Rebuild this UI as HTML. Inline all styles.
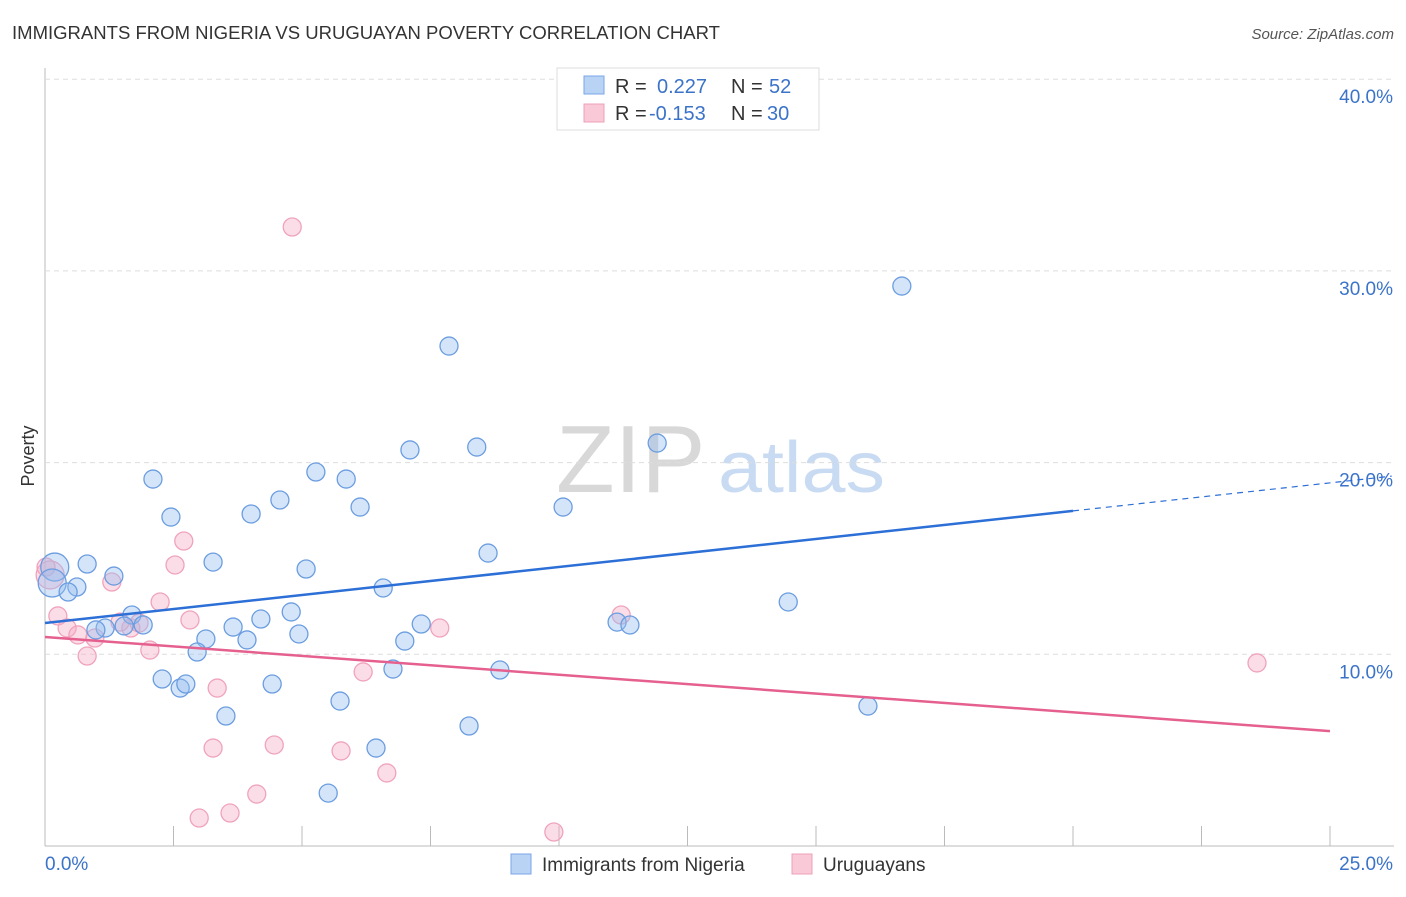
<!DOCTYPE html>
<html><head><meta charset="utf-8"><style>
body{margin:0;background:#fff;font-family:"Liberation Sans",sans-serif}
svg text{font-family:"Liberation Sans",sans-serif}
</style></head><body>
<svg id="chart" width="1406" height="892">
<text x="12" y="39" font-size="18" fill="#333" textLength="708" lengthAdjust="spacingAndGlyphs">IMMIGRANTS FROM NIGERIA VS URUGUAYAN POVERTY CORRELATION CHART</text>
<text x="1394" y="39" font-size="15" fill="#555" font-style="italic" text-anchor="end">Source: ZipAtlas.com</text>
<text x="556" y="492" font-size="96" fill="#d8d8d8" font-family="Liberation Serif,serif">ZIP</text>
<text x="718" y="492" font-size="72" fill="#c9dbf2" textLength="167" lengthAdjust="spacingAndGlyphs">atlas</text>
<text transform="translate(34,456) rotate(-90)" font-size="18" fill="#333" text-anchor="middle">Poverty</text>
<g id="grid"></g><g id="marks"></g>
<g>
<rect x="557" y="68" width="262" height="62" fill="#fff" stroke="#ddd"/>
<rect x="584" y="76" width="20" height="18" fill="#b9d3f5" stroke="#7aa6e6"/>
<rect x="584" y="104" width="20" height="18" fill="#f9c9d7" stroke="#eea0b8"/>
<text x="615" y="93" font-size="20" fill="#333">R =</text><text x="657" y="93" font-size="20" fill="#3b73c9">0.227</text>
<text x="731" y="93" font-size="20" fill="#333">N =</text><text x="769" y="93" font-size="20" fill="#3b73c9">52</text>
<text x="615" y="120" font-size="20" fill="#333">R =</text><text x="649" y="120" font-size="20" fill="#3b73c9">-0.153</text>
<text x="731" y="120" font-size="20" fill="#333">N =</text><text x="767" y="120" font-size="20" fill="#3b73c9">30</text>
</g>
<g>
<rect x="511" y="854" width="20" height="20" fill="#b9d3f5" stroke="#7aa6e6"/>
<text x="542" y="871" font-size="19" fill="#333">Immigrants from Nigeria</text>
<rect x="792" y="854" width="20" height="20" fill="#f9c9d7" stroke="#eea0b8"/>
<text x="823" y="871" font-size="19" fill="#333">Uruguayans</text>
</g>
</svg>
<script>
const yTicks=[10,20,30,40];
const yTickLabels=["10.0%","20.0%","30.0%","40.0%"];
const xTickLabels=["0.0%","25.0%"];
const blueX=[0.19,0.14,0.82,0.62,0.45,1.34,1.69,1.91,1.54,1.17,0.99,2.10,2.45,3.27,3.13,2.96,3.66,3.93,4.20,4.79,4.94,4.01,4.57,5.08,5.27,5.86,6.13,6.58,7.00,7.32,7.10,6.77,2.28,2.63,2.74,3.52,4.42,5.74,6.44,5.51,8.25,8.85,8.62,8.40,7.86,10.08,11.91,11.13,11.38,14.46,16.01,16.67];
const blueY=[14.55,13.72,14.71,13.51,13.25,14.08,12.05,11.53,11.48,11.37,11.27,19.14,17.16,14.81,10.80,10.12,11.42,10.75,11.84,12.21,11.06,17.32,18.05,14.45,19.51,19.14,17.68,13.46,10.69,11.58,20.66,9.23,8.71,8.24,8.45,6.78,8.45,7.56,5.11,2.76,6.26,9.18,15.28,20.81,26.08,17.68,21.02,11.68,11.53,12.73,7.30,29.21];
const pinkX=[0.10,0.25,0.43,0.64,0.97,0.82,1.30,1.67,1.46,2.04,2.24,2.53,2.70,2.82,3.35,3.27,3.00,3.60,4.12,4.46,4.81,5.76,6.19,6.65,7.68,9.90,11.21,23.58,0.02,1.83];
const pinkY=[14.14,12.0,11.37,11.01,10.85,9.91,13.77,11.37,11.68,10.22,12.73,14.66,15.91,11.79,8.24,5.11,1.46,1.72,2.71,5.27,32.29,4.96,9.08,3.81,11.37,0.73,12.05,9.55,14.55,11.63];
const blueTrend=[11.63,17.48]; // at x=0 and x=20
const pinkTrend=[10.9,5.99];   // at x=0 and x=25
const X=v=>45+v*51.4, Y=v=>846-v*19.17;
const NS="http://www.w3.org/2000/svg";
const grid=document.getElementById('grid'), marks=document.getElementById('marks');
function mk(p,tag,a){const e=document.createElementNS(NS,tag);for(const k in a)e.setAttribute(k,a[k]);p.appendChild(e);return e;}
let e=mk(grid,'line',{x1:45,y1:68,x2:45,y2:846,stroke:'#bbb'});


e=mk(grid,'line',{x1:45,y1:846,x2:1394,y2:846,stroke:'#bbb'});


for(let i=1;i<=10;i++){e=mk(grid,'line',{x1:X(i*2.5),y1:826,x2:X(i*2.5),y2:846,stroke:'#bbb'});

}
yTicks.forEach((t,i)=>{e=mk(grid,'line',{x1:45,y1:Y(t),x2:1394,y2:Y(t),stroke:'#ddd','stroke-dasharray':'5,4'});


e=mk(grid,'text',{x:1393,y:Y(t)+24,'font-size':19,fill:'#3b73c9','text-anchor':'end'});e.textContent=yTickLabels[i];

});
e=mk(grid,'text',{x:45,y:870,'font-size':19,fill:'#3b73c9'});e.textContent=xTickLabels[0];


e=mk(grid,'text',{x:1393,y:870,'font-size':19,fill:'#3b73c9','text-anchor':'end'});e.textContent=xTickLabels[1];


pinkX.forEach((x,i)=>{e=mk(marks,'circle',{cx:X(x),cy:Y(pinkY[i]),r:i==0?14:9,fill:'rgba(246,170,195,0.4)',stroke:'#f0a3bc','stroke-width':1.3});

});
blueX.forEach((x,i)=>{e=mk(marks,'circle',{cx:X(x),cy:Y(blueY[i]),r:i<2?14:9,fill:'rgba(150,190,240,0.4)',stroke:'#6b9de0','stroke-width':1.3});

});
const bs=(blueTrend[1]-blueTrend[0])/20;
e=mk(marks,'line',{x1:X(0),y1:Y(blueTrend[0]),x2:X(20),y2:Y(blueTrend[1]),stroke:'#2c6fd6','stroke-width':2.5});


e=mk(marks,'line',{x1:X(20),y1:Y(blueTrend[1]),x2:X(26.2),y2:Y(blueTrend[0]+bs*26.2),stroke:'#2c6fd6','stroke-width':1.2,'stroke-dasharray':'6,5'});


e=mk(marks,'line',{x1:X(0),y1:Y(pinkTrend[0]),x2:X(25),y2:Y(pinkTrend[1]),stroke:'#e5608e','stroke-width':2.5});


</script>
</body></html>
